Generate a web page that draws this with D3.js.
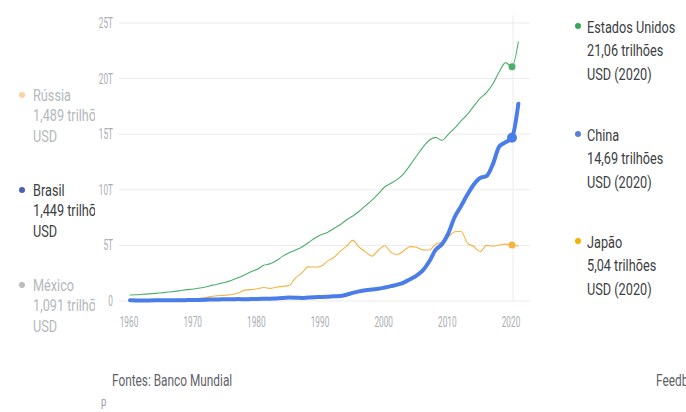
<!DOCTYPE html>
<html lang="pt">
<head>
<meta charset="utf-8">
<script src="https://cdn.jsdelivr.net/npm/d3@7"></script>
<style>
  html, body { margin: 0; padding: 0; background: #fff; overflow: hidden; }
  svg { display: block; }
  text { font-family: Roboto, "Noto Sans", sans-serif; }
</style>
</head>
<body>
<svg id="chart" width="686" height="412"></svg>
<script>
// PIB anual (trilhões de USD correntes), Banco Mundial
const years = d3.range(1960, 2022);

const usGdp = [
  0.543, 0.563, 0.605, 0.638, 0.686, 0.744, 0.815, 0.862, 0.943, 1.019,
  1.073, 1.165, 1.280, 1.425, 1.545, 1.684, 1.873, 2.082, 2.352, 2.627,
  2.857, 3.207, 3.343, 3.634, 4.037, 4.339, 4.580, 4.855, 5.236, 5.642,
  5.963, 6.158, 6.520, 6.859, 7.287, 7.640, 8.073, 8.578, 9.063, 9.631,
  10.252, 10.582, 10.936, 11.458, 12.214, 13.037, 13.815, 14.452, 14.713, 14.449,
  14.992, 15.543, 16.197, 16.785, 17.527, 18.238, 18.745, 19.543, 20.612, 21.433,
  21.060, 23.315
];

const chinaGdp = [
  0.060, 0.050, 0.047, 0.051, 0.060, 0.070, 0.076, 0.072, 0.070, 0.079,
  0.093, 0.100, 0.114, 0.139, 0.144, 0.163, 0.154, 0.175, 0.150, 0.178,
  0.191, 0.196, 0.209, 0.235, 0.260, 0.309, 0.301, 0.273, 0.312, 0.348,
  0.361, 0.383, 0.427, 0.445, 0.564, 0.734, 0.864, 0.962, 1.029, 1.094,
  1.211, 1.339, 1.471, 1.660, 1.955, 2.286, 2.752, 3.550, 4.594, 5.102,
  6.087, 7.552, 8.532, 9.570, 10.476, 11.062, 11.233, 12.310, 13.895, 14.280,
  14.687, 17.734
];

const japanGdp = [
  0.044, 0.054, 0.061, 0.070, 0.082, 0.091, 0.106, 0.124, 0.147, 0.173,
  0.213, 0.241, 0.318, 0.432, 0.480, 0.521, 0.582, 0.722, 0.980, 1.021,
  1.105, 1.218, 1.135, 1.243, 1.318, 1.399, 2.079, 2.532, 3.072, 3.054,
  3.133, 3.584, 3.909, 4.455, 4.907, 5.449, 4.834, 4.415, 4.032, 4.562,
  4.968, 4.375, 4.183, 4.519, 4.893, 4.831, 4.601, 4.580, 5.106, 5.289,
  5.759, 6.234, 6.272, 5.212, 4.897, 4.445, 5.004, 4.931, 5.041, 5.118,
  5.040, 4.941
];

const yTicks = [0, 5, 10, 15, 20, 25];
const yTickLabels = ["0", "5T", "10T", "15T", "20T", "25T"];
const xTicks = [1960, 1970, 1980, 1990, 2000, 2010, 2020];

const highlightYear = 2020;

// Legenda da direita: séries traçadas
const rightLegendNames = ["Estados Unidos", "China", "Japão"];
const rightLegendValues = ["21,06 trilhões", "14,69 trilhões", "5,04 trilhões"];
const rightLegendYear = "USD (2020)";

// Legenda da esquerda: outras economias (cortada pelo painel)
const leftLegendNames = ["Rússia", "Brasil", "México"];
const leftLegendValues = ["1,489 trilhões", "1,449 trilhões", "1,091 trilhões"];
const leftLegendUnit = "USD";

const sourceText = "Fontes: Banco Mundial";
const feedbackText = "Feedback";
const footerNote = "p";

// ---- drawing ----
const svg = d3.select("#chart");

// narrow text: the whole widget uses a horizontally condensed face
function label(parent, str, px, py, opts) {
  const o = Object.assign({ size: 16.5, sx: 0.77, fill: "#3c4043", anchor: "start" }, opts);
  return parent.append("text")
    .attr("transform", `translate(${px},${py}) scale(${o.sx},1)`)
    .attr("text-anchor", o.anchor)
    .attr("dominant-baseline", "central")
    .attr("fill", o.fill)
    .attr("font-size", o.size)
    .text(str);
}

const x = d3.scaleLinear().domain([1960, 2020]).range([130, 512]);
const y = d3.scaleLinear().domain([0, 25]).range([301, 23]);

const gridLeft = 119, gridRight = 530;

// horizontal grid lines
svg.append("g")
  .selectAll("line")
  .data(yTicks)
  .join("line")
  .attr("x1", gridLeft).attr("x2", gridRight)
  .attr("y1", d => y(d)).attr("y2", d => y(d))
  .attr("stroke", "#ebebeb").attr("stroke-width", 1);

// y axis labels (positions from the axis scale)
const axisStyle = { size: 15, sx: 0.55, fill: "#a9adb1" };
const yAxisG = svg.append("g");
yTicks.forEach((t, i) => {
  label(yAxisG, yTickLabels[i], 113, y(t), Object.assign({ anchor: "end" }, axisStyle));
});

// x axis labels
const xAxisG = svg.append("g");
xTicks.forEach(t => {
  label(xAxisG, d3.format("d")(t), x(t) - 1, 322, Object.assign({ anchor: "middle" }, axisStyle));
});

// hover guide at the highlighted year
svg.append("line")
  .attr("x1", x(highlightYear) + 1).attr("x2", x(highlightYear) + 1)
  .attr("y1", 15).attr("y2", y(0))
  .attr("stroke", "#ececec").attr("stroke-width", 1);

const line = d3.line()
  .x((d, i) => x(years[i]))
  .y(d => y(d))
  .curve(d3.curveMonotoneX);

const series = [
  { values: usGdp,    color: "#4caf6a", width: 1.1, r: 3.5 },
  { values: japanGdp, color: "#f5b342", width: 1.1, r: 3.5 },
  { values: chinaGdp, color: "#4a7de8", width: 4,   r: 5 }
];

svg.append("g")
  .selectAll("path")
  .data(series)
  .join("path")
  .attr("d", d => line(d.values))
  .attr("fill", "none")
  .attr("stroke", d => d.color)
  .attr("stroke-width", d => d.width)
  .attr("stroke-linejoin", "round")
  .attr("stroke-linecap", "round");

const hi = years.indexOf(highlightYear);
svg.append("g")
  .selectAll("circle")
  .data(series)
  .join("circle")
  .attr("cx", x(highlightYear))
  .attr("cy", d => y(d.values[hi]))
  .attr("r", d => d.r)
  .attr("fill", d => d.color);

// right legend
const rightColors = ["#34a853", "#5c7fd6", "#f2b300"];
const rightTop = [27, 135, 242];
const rl = svg.append("g");
rightLegendNames.forEach((name, i) => {
  const top = rightTop[i];
  rl.append("circle").attr("cx", 578).attr("cy", top - 1).attr("r", 3).attr("fill", rightColors[i]);
  label(rl, name, 587, top);
  label(rl, rightLegendValues[i], 587, top + 23.5);
  label(rl, rightLegendYear, 587, top + 47);
});

// left legend, clipped by the plot panel
svg.append("clipPath").attr("id", "leftClip")
  .append("rect").attr("x", 0).attr("y", 0).attr("width", 95).attr("height", 412);

const leftColors = ["#fbd2a0", "#4a5fb0", "#b9bcc0"];
const leftText = ["#b4b8bc", "#3c4043", "#b4b8bc"];
const leftTop = [95, 190, 285];
const ll = svg.append("g").attr("clip-path", "url(#leftClip)");
leftLegendNames.forEach((name, i) => {
  const top = leftTop[i];
  ll.append("circle").attr("cx", 22).attr("cy", top).attr("r", 3).attr("fill", leftColors[i]);
  label(ll, name, 33, top, { fill: leftText[i] });
  label(ll, leftLegendValues[i], 33, top + 20.5, { fill: leftText[i] });
  label(ll, leftLegendUnit, 33, top + 41, { fill: leftText[i] });
});

// footer
label(svg, sourceText, 112, 380, { size: 16, sx: 0.74, fill: "#5f6368" });
label(svg, feedbackText, 656, 380, { size: 16, sx: 0.74, fill: "#5f6368" });
label(svg, footerNote, 101, 402, { size: 12, sx: 0.8, fill: "#9aa0a6" });
</script>
</body>
</html>
